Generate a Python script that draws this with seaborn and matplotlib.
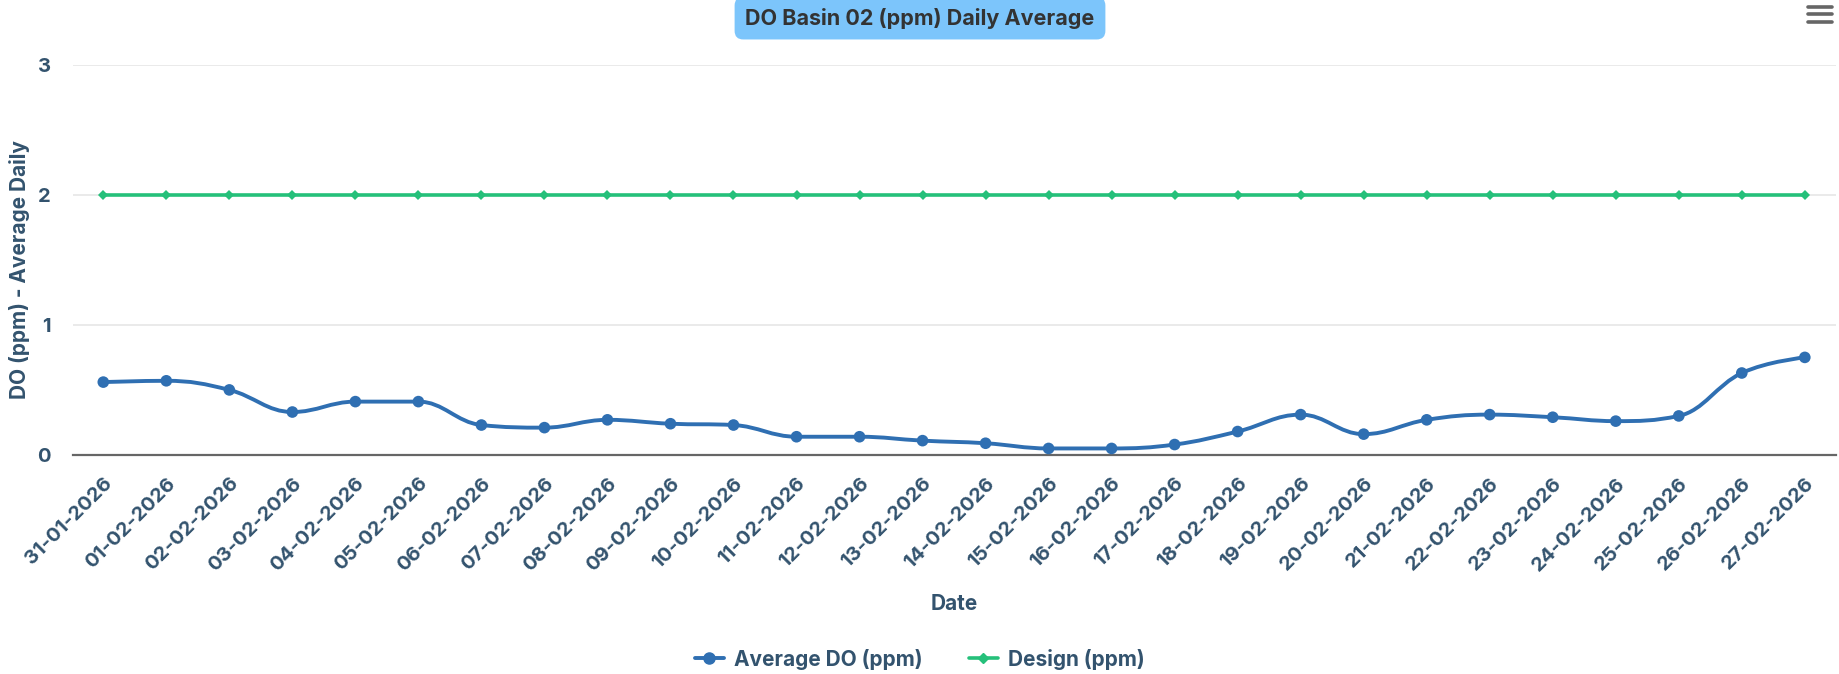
import numpy as np
import pandas as pd
import matplotlib
matplotlib.use("Agg")
import matplotlib.pyplot as plt
import seaborn as sns
from matplotlib.path import Path
from matplotlib.patches import PathPatch
from matplotlib.lines import Line2D

dates = ["31-01-2026", "01-02-2026", "02-02-2026", "03-02-2026", "04-02-2026",
         "05-02-2026", "06-02-2026", "07-02-2026", "08-02-2026", "09-02-2026",
         "10-02-2026", "11-02-2026", "12-02-2026", "13-02-2026", "14-02-2026",
         "15-02-2026", "16-02-2026", "17-02-2026", "18-02-2026", "19-02-2026",
         "20-02-2026", "21-02-2026", "22-02-2026", "23-02-2026", "24-02-2026",
         "25-02-2026", "26-02-2026", "27-02-2026"]
avg_do = [0.56, 0.57, 0.50, 0.33, 0.41, 0.41, 0.23, 0.21, 0.27, 0.24,
          0.23, 0.14, 0.14, 0.11, 0.09, 0.05, 0.05, 0.08, 0.18, 0.31,
          0.16, 0.27, 0.31, 0.29, 0.26, 0.30, 0.63, 0.75]
design = [2.0] * len(dates)

BLUE = "#2f6fb2"
GREEN = "#25c07a"
LBL = "#33536e"

df = pd.DataFrame({"Date": dates, "Average DO (ppm)": avg_do, "Design (ppm)": design})
df["x"] = np.arange(len(df))


def spline_path(xs, ys, smoothing=1.5):
    # highcharts style spline through the points, as bezier segments
    n = len(xs)
    denom = smoothing + 1
    lc = [(xs[0], ys[0])] * n
    rc = [(xs[0], ys[0])] * n
    for i in range(n):
        if i == 0 or i == n - 1:
            lc[i] = rc[i] = (xs[i], ys[i])
            continue
        px, py = xs[i], ys[i]
        lx, ly = xs[i - 1], ys[i - 1]
        nx, ny = xs[i + 1], ys[i + 1]
        lcx = (smoothing * px + lx) / denom
        lcy = (smoothing * py + ly) / denom
        rcx = (smoothing * px + nx) / denom
        rcy = (smoothing * py + ny) / denom
        if rcx != lcx:
            corr = ((rcy - lcy) * (rcx - px)) / (rcx - lcx) + py - rcy
            lcy += corr
            rcy += corr
        if lcy > ly and lcy > py:
            lcy = max(ly, py); rcy = 2 * py - lcy
        elif lcy < ly and lcy < py:
            lcy = min(ly, py); rcy = 2 * py - lcy
        if rcy > ny and rcy > py:
            rcy = max(ny, py); lcy = 2 * py - rcy
        elif rcy < ny and rcy < py:
            rcy = min(ny, py); lcy = 2 * py - rcy
        lc[i] = (lcx, lcy)
        rc[i] = (rcx, rcy)
    verts = [(xs[0], ys[0])]
    codes = [Path.MOVETO]
    for i in range(1, n):
        verts += [rc[i - 1], lc[i], (xs[i], ys[i])]
        codes += [Path.CURVE4] * 3
    return Path(verts, codes)


sns.set_style("white")
plt.rcParams["font.family"] = ["Inter", "DejaVu Sans"]

fig = plt.figure(figsize=(18.4, 6.74), dpi=100)
ax = fig.add_axes([0.0397, 0.325, 0.9583, 0.579])

# design line
sns.lineplot(data=df, x="x", y="Design (ppm)", ax=ax, color=GREEN, lw=2.6,
             marker="D", markersize=5, markeredgewidth=0, label="Design (ppm)", zorder=3)

# average DO as spline + markers
ax.add_patch(PathPatch(spline_path(df["x"].values, df["Average DO (ppm)"].values),
                       fill=False, edgecolor=BLUE, lw=2.8, zorder=4, capstyle="round"))
sns.scatterplot(data=df, x="x", y="Average DO (ppm)", ax=ax, color=BLUE, s=70,
                edgecolor="none", zorder=5, legend=False)

ax.set_xlim(-0.48, len(df) - 0.5)
ax.set_ylim(0, 3)
ax.set_yticks([0, 1, 2, 3])
ax.set_xticks(df["x"])
ax.set_xticklabels(dates, rotation=45, ha="right", rotation_mode="anchor")
ax.yaxis.grid(True, color="#e6e6e6", lw=1.2)
ax.set_axisbelow(True)
for s in ["top", "right", "left"]:
    ax.spines[s].set_visible(False)
ax.spines["bottom"].set_color("#666666")
ax.spines["bottom"].set_linewidth(1.6)
ax.tick_params(axis="both", length=0, colors=LBL, labelsize=14.5)
ax.tick_params(axis="y", pad=16)
ax.tick_params(axis="x", pad=14)
for t in ax.get_xticklabels() + ax.get_yticklabels():
    t.set_fontweight("bold")
ax.set_xlabel("Date", fontsize=15, fontweight="bold", color=LBL, labelpad=14)
ax.set_ylabel("DO (ppm) - Average Daily", fontsize=15, fontweight="bold", color=LBL)
ax.yaxis.set_label_coords(-0.0245, 0.474)

# title with rounded box
fig.text(0.5, 0.973, "DO Basin 02 (ppm) Daily Average", ha="center", va="center",
         fontsize=15.5, fontweight="bold", color="#333333",
         bbox=dict(boxstyle="round,pad=0.5,rounding_size=0.4", fc="#7cc5fb", ec="none"))

# legend
handles = [Line2D([], [], color=BLUE, lw=2.8, marker="o", markersize=8),
           Line2D([], [], color=GREEN, lw=2.6, marker="D", markersize=5)]
leg = fig.legend(handles, ["Average DO (ppm)", "Design (ppm)"], loc="center",
                 bbox_to_anchor=(0.5, 0.022), ncol=2, frameon=False, handlelength=1.4,
                 columnspacing=2.2, handletextpad=0.5,
                 prop={"weight": "bold", "size": 15})
for t in leg.get_texts():
    t.set_color(LBL)
ax.get_legend().remove()

# export menu icon
for yy in [0.989, 0.979, 0.968]:
    fig.add_artist(Line2D([0.9826, 0.9957], [yy, yy], color="#666666", lw=2.6,
                          solid_capstyle="round", transform=fig.transFigure))

fig.savefig("out.png", dpi=100)
